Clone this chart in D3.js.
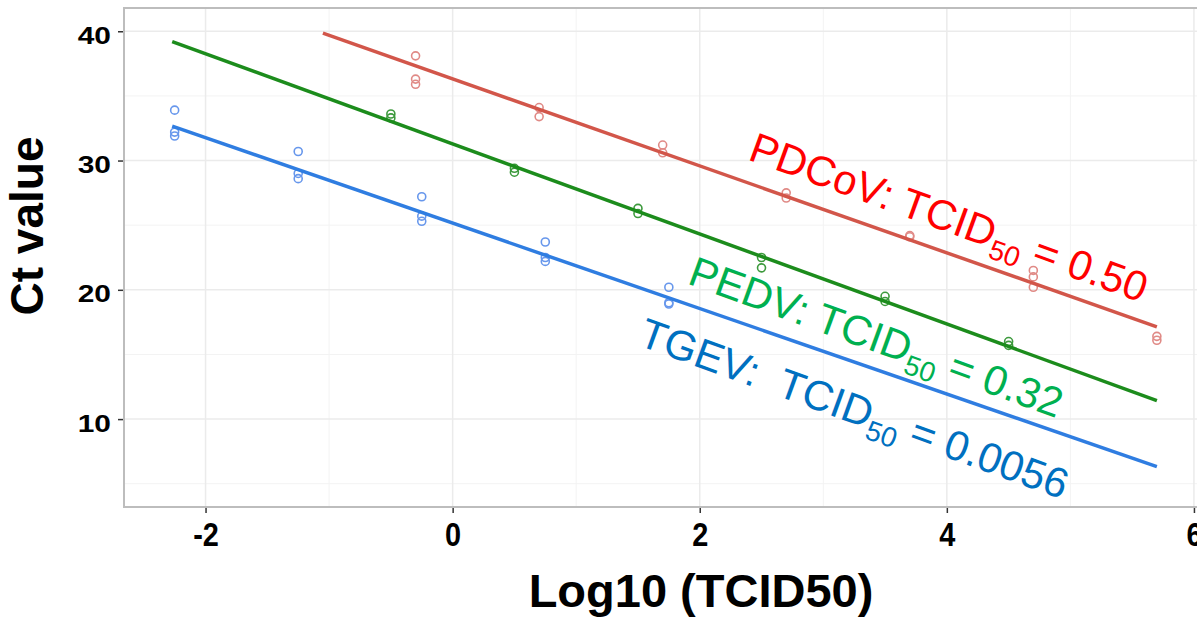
<!DOCTYPE html>
<html>
<head>
<meta charset="utf-8">
<script src="https://cdn.jsdelivr.net/npm/d3@7"></script>
<style>
  body { margin: 0; background: #fff; }
  text { font-family: Arial, "Liberation Sans", sans-serif; }
</style>
</head>
<body>
<div id="chart"></div>
<script>
// data
const series = ["PDCoV", "PEDV", "TGEV"];

const pdcovX = [-0.3, -0.3, -0.3, 0.7, 0.7, 1.7, 1.7, 2.7, 2.7, 3.7, 3.7, 4.7, 4.7, 4.7, 5.7, 5.7];
const pdcovY = [38.1, 36.3, 35.9, 34.1, 33.4, 31.2, 30.6, 27.5, 27.1, 24.2, 24.1, 21.5, 21.0, 20.2, 16.4, 16.1];

const pedvX = [-0.5, -0.5, 0.5, 0.5, 1.5, 1.5, 2.5, 2.5, 3.5, 3.5, 4.5, 4.5];
const pedvY = [33.6, 33.3, 29.4, 29.1, 26.3, 25.9, 22.5, 21.7, 19.5, 19.1, 16.0, 15.7];

const tgevX = [-2.25, -2.25, -2.25, -1.25, -1.25, -1.25, -0.25, -0.25, -0.25, 0.75, 0.75, 0.75, 1.75, 1.75, 1.75];
const tgevY = [33.9, 32.2, 31.9, 30.7, 29.0, 28.6, 27.2, 25.7, 25.3, 23.7, 22.5, 22.2, 20.2, 19.0, 18.9];

// fitted lines: [x start, x end], [y start, y end]
const fitX = [[-1.05, 5.7], [-2.27, 5.7], [-2.27, 5.7]];
const fitY = [[39.85, 17.14], [39.2, 11.43], [32.66, 6.33]];

// annotation text and where its baseline starts (data units)
const labelNames = ["PDCoV: TCID", "PEDV: TCID", "TGEV:\u00a0 TCID"];
const labelValues = [" = 0.50", " = 0.32", " = 0.0056"];
const labelX = [2.38, 1.89, 1.49];
const labelY = [30.1, 20.5, 15.75];

const xTicks = [-2, 0, 2, 4, 6];
const yTicks = [10, 20, 30, 40];

const lineColors = ["#d2564a", "#1c8c1c", "#2f7de1"];
const pointColors = ["#e08a86", "#3d9a3d", "#6797ec"];
const textColors = ["#ff0000", "#00b050", "#0070c0"];

const width = 1197, height = 617;
const svg = d3.select("#chart").append("svg")
  .attr("width", width)
  .attr("height", height);

const x = d3.scaleLinear([-2.66, 6.13], [124, 1210]);
const y = d3.scaleLinear([3.2, 41.8], [507, 8]);

// grid
const grid = svg.append("g");
grid.selectAll(".minorx")
  .data(d3.range(-2, 7, 1).filter(v => v % 2 !== 0))
  .join("line")
  .attr("x1", d => x(d)).attr("x2", d => x(d))
  .attr("y1", y.range()[0]).attr("y2", y.range()[1])
  .attr("stroke", "#f3f3f3").attr("stroke-width", 1);
grid.selectAll(".minory")
  .data([5, 15, 25, 35])
  .join("line")
  .attr("y1", d => y(d)).attr("y2", d => y(d))
  .attr("x1", x.range()[0]).attr("x2", x.range()[1])
  .attr("stroke", "#f3f3f3").attr("stroke-width", 1);
grid.append("g").selectAll("line")
  .data(xTicks)
  .join("line")
  .attr("x1", d => x(d)).attr("x2", d => x(d))
  .attr("y1", y.range()[0]).attr("y2", y.range()[1])
  .attr("stroke", "#ebebeb").attr("stroke-width", 1.5);
grid.append("g").selectAll("line")
  .data(yTicks)
  .join("line")
  .attr("y1", d => y(d)).attr("y2", d => y(d))
  .attr("x1", x.range()[0]).attr("x2", x.range()[1])
  .attr("stroke", "#ebebeb").attr("stroke-width", 1.5);

// panel border
svg.append("rect")
  .attr("x", x.range()[0]).attr("y", y.range()[1])
  .attr("width", x.range()[1] - x.range()[0])
  .attr("height", y.range()[0] - y.range()[1])
  .attr("fill", "none")
  .attr("stroke", "#bdbdbd")
  .attr("stroke-width", 2);

// axes
const xAxis = svg.append("g")
  .attr("transform", `translate(0,${y.range()[0] + 1})`)
  .call(d3.axisBottom(x).tickValues(xTicks).tickSize(5).tickFormat(d3.format("d")));
xAxis.select(".domain").remove();
xAxis.selectAll(".tick line").attr("stroke", "#333").attr("stroke-width", 1.5);
xAxis.selectAll(".tick text")
  .attr("y", 0)
  .attr("dy", 0)
  .attr("transform", "translate(0,38) scale(0.85,1)")
  .style("font-size", "34px")
  .style("font-weight", "bold")
  .attr("fill", "#000")
  .text(d => d < 0 ? "-" + Math.abs(d) : d);
xAxis.selectAll(".tick text").each(function (d) {
  d3.select(this).attr("x", 0);
});

const yAxis = svg.append("g")
  .attr("transform", `translate(${x.range()[0] - 1},0)`)
  .call(d3.axisLeft(y).tickValues(yTicks).tickSize(5));
yAxis.select(".domain").remove();
yAxis.selectAll(".tick line").attr("stroke", "#333").attr("stroke-width", 1.5);
yAxis.selectAll(".tick text")
  .attr("x", 0)
  .attr("dy", 0)
  .attr("transform", "translate(-12,12) scale(1.3,1)")
  .style("font-size", "23px")
  .style("font-weight", "bold")
  .attr("fill", "#000");

// axis titles
svg.append("text")
  .attr("x", 701).attr("y", 607)
  .attr("text-anchor", "middle")
  .style("font-size", "47px")
  .style("font-weight", "bold")
  .text("Log10 (TCID50)");

svg.append("text")
  .attr("transform", `translate(43,226) rotate(-90)`)
  .attr("text-anchor", "middle")
  .style("font-size", "46px")
  .style("font-weight", "bold")
  .text("Ct value");

// points
const pointsX = [pdcovX, pedvX, tgevX];
const pointsY = [pdcovY, pedvY, tgevY];
series.forEach((s, i) => {
  svg.append("g")
    .selectAll("circle")
    .data(pointsX[i].map((v, j) => [v, pointsY[i][j]]))
    .join("circle")
    .attr("cx", d => x(d[0]))
    .attr("cy", d => y(d[1]))
    .attr("r", 4)
    .attr("fill", "none")
    .attr("stroke", pointColors[i])
    .attr("stroke-width", 1.6);
});

// fitted lines
const line = d3.line().x(d => x(d[0])).y(d => y(d[1]));
series.forEach((s, i) => {
  svg.append("path")
    .datum([[fitX[i][0], fitY[i][0]], [fitX[i][1], fitY[i][1]]])
    .attr("d", line)
    .attr("fill", "none")
    .attr("stroke", lineColors[i])
    .attr("stroke-width", 3.5);
});

// labels
series.forEach((s, i) => {
  const t = svg.append("text")
    .attr("transform", `translate(${x(labelX[i])},${y(labelY[i])}) rotate(20)`)
    .style("font-size", "42px")
    .attr("fill", textColors[i]);
  t.append("tspan").text(labelNames[i]);
  t.append("tspan").attr("dy", 10).style("font-size", "28px").text("50");
  t.append("tspan").attr("dy", -10).text(labelValues[i]);
});
</script>
</body>
</html>
